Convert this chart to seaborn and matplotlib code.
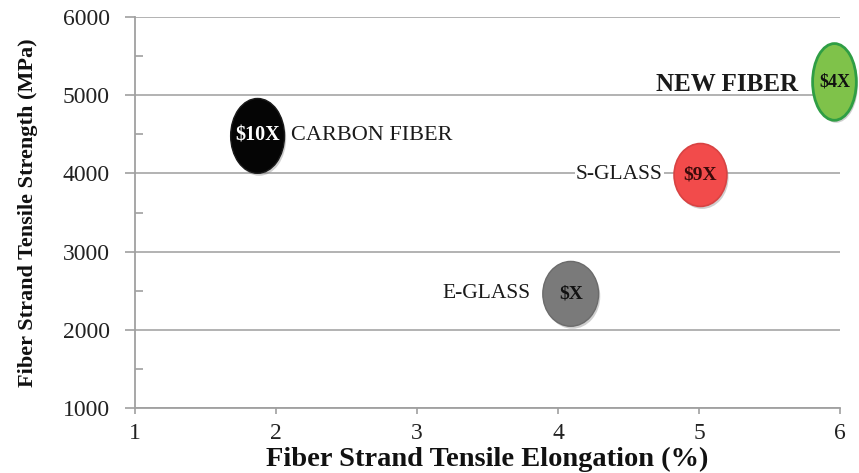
import numpy as np
import pandas as pd
import matplotlib
matplotlib.use("Agg")
import matplotlib.pyplot as plt
import matplotlib.path as mpath
import matplotlib.patheffects as pe
from matplotlib.transforms import Affine2D
from matplotlib.ticker import MultipleLocator
import seaborn as sns

# Fiber data
fibers = ["CARBON FIBER", "NEW FIBER", "S-GLASS", "E-GLASS"]
elongation = [1.87, 5.96, 5.01, 4.09]          # %
strength = [4480, 5170, 3980, 2460]            # MPa
cost_labels = ["$10X", "$4X", "$9X", "$X"]

x_ticks = [1, 2, 3, 4, 5, 6]
y_ticks = [1000, 2000, 3000, 4000, 5000, 6000]

# Styling
fill_colors = {"CARBON FIBER": "#050505", "NEW FIBER": "#7fc24a",
               "S-GLASS": "#f24b4b", "E-GLASS": "#7a7a7a"}
edge_colors = {"CARBON FIBER": "#1a1a1a", "NEW FIBER": "#2f9e44",
               "S-GLASS": "#d84343", "E-GLASS": "#6b6b6b"}
aspect = {"CARBON FIBER": 0.72, "NEW FIBER": 0.57, "S-GLASS": 0.84, "E-GLASS": 0.86}
marker_area = {"CARBON FIBER": 2900, "NEW FIBER": 3050, "S-GLASS": 2050, "E-GLASS": 2180}
edge_width = {"CARBON FIBER": 1.0, "NEW FIBER": 2.0, "S-GLASS": 1.2, "E-GLASS": 1.0}


def ellipse_marker(a):
    return mpath.Path.unit_circle().transformed(Affine2D().scale(a, 1.0))


df = pd.DataFrame({"fiber": fibers, "elongation": elongation, "strength": strength})

sns.set_theme(style="white")
plt.rcParams["font.family"] = ["Liberation Serif", "DejaVu Serif"]

fig = plt.figure(figsize=(8.59, 4.73), dpi=100)
ax = fig.add_axes([0.157, 0.1374, 0.821, 0.8266])

sns.scatterplot(
    data=df, x="elongation", y="strength",
    hue="fiber", palette=fill_colors,
    style="fiber", markers={f: ellipse_marker(aspect[f]) for f in fibers},
    size="fiber", sizes=marker_area,
    edgecolor=[edge_colors[f] for f in fibers],
    linewidth=[edge_width[f] for f in fibers],
    legend=False, ax=ax, zorder=3, clip_on=False,
)
ax.collections[0].set_path_effects([
    pe.SimplePatchShadow(offset=(1.2, -1.8), shadow_rgbFace="#777777", alpha=0.35),
    pe.Normal(),
])

ax.set_xlim(1, 6)
ax.set_ylim(1000, 6000)
ax.set_xticks(x_ticks)
ax.set_yticks(y_ticks)
ax.yaxis.set_minor_locator(MultipleLocator(500))
ax.grid(axis="y", which="major", color="#adadad", linewidth=1.3, zorder=0)
ax.set_axisbelow(True)

for side in ["top", "right"]:
    ax.spines[side].set_visible(False)
for side in ["left", "bottom"]:
    ax.spines[side].set_color("#a0a0a0")
    ax.spines[side].set_linewidth(1.3)

ax.tick_params(axis="y", which="major", direction="out", length=7, width=1.2,
               color="#a0a0a0", labelsize=17, labelcolor="#222222", pad=11, left=True)
ax.tick_params(axis="y", which="minor", direction="in", length=6, width=1.2,
               color="#a0a0a0", left=True)
ax.tick_params(axis="x", which="major", direction="out", length=4, width=1.2,
               color="#a0a0a0", labelsize=17, labelcolor="#222222", pad=7, bottom=True)

ax.set_xlabel("Fiber Strand Tensile Elongation (%)", fontsize=20.5, fontweight="bold",
              color="#111111", labelpad=2)
ax.set_ylabel("Fiber Strand Tensile Strength (MPa)", fontsize=16, fontweight="bold",
              color="#111111", labelpad=18)

# Cost labels inside the ellipses
cost_style = {
    "CARBON FIBER": dict(color="white", fontsize=14.5),
    "NEW FIBER": dict(color="#111111", fontsize=13),
    "S-GLASS": dict(color="#3a0a0a", fontsize=14),
    "E-GLASS": dict(color="#111111", fontsize=14),
}
for f, x, y, c in zip(fibers, elongation, strength, cost_labels):
    ax.text(x, y, c.replace("$", r"\$"), ha="center", va="center", fontweight="bold",
            zorder=5, clip_on=False, **cost_style[f])

# Fiber name labels beside the ellipses
name_style = {
    "CARBON FIBER": dict(xytext=(24, 0), ha="left", fontsize=16),
    "NEW FIBER": dict(xytext=(-26, -1.5), ha="right", fontsize=18, fontweight="bold"),
    "S-GLASS": dict(xytext=(-27, 0), ha="right", fontsize=15.5,
                    bbox=dict(boxstyle="square,pad=0.05", fc="white", ec="none")),
    "E-GLASS": dict(xytext=(-29, 0), ha="right", fontsize=15.5),
}
for f, x, y in zip(fibers, elongation, strength):
    ax.annotate(f, xy=(x, y), textcoords="offset points", va="center",
                color="#1a1a1a", zorder=4, **name_style[f])

fig.savefig("out.png", dpi=100)
